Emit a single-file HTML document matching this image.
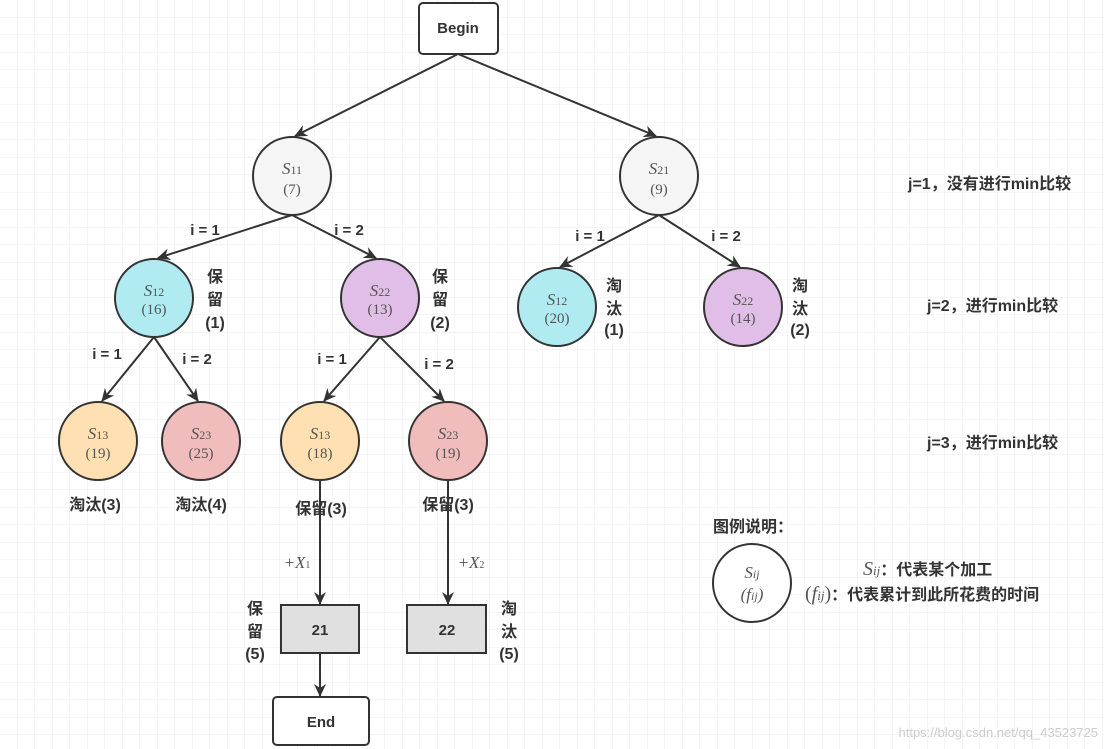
<!DOCTYPE html>
<html><head><meta charset="utf-8"><style>
body{margin:0;background:#fff}
svg{display:block}
text{font-family:"Liberation Sans","Noto Sans CJK SC",sans-serif}
.b,.b text{font-weight:bold;font-size:15px;fill:#333}
.m,.m text{font-family:"Liberation Serif",serif;font-style:italic;font-size:17px;fill:#555}
.n,.n text{font-family:"Liberation Serif",serif;font-size:15px;fill:#555}
.r{font-weight:bold;font-size:16px;fill:#333}
</style></head><body>
<svg width="1104" height="749" viewBox="0 0 1104 749">
<defs>
<pattern id="g" width="17.5" height="17.5" patternUnits="userSpaceOnUse"><path d="M17.5 0V17.5H0" fill="none" stroke="#ebebeb" stroke-width="1"/></pattern>
<marker id="a" markerWidth="13" markerHeight="12" refX="12" refY="6" orient="auto" markerUnits="userSpaceOnUse"><path d="M0,0 L13,6 L0,12 L4,6z" fill="#333"/></marker>
</defs>
<rect width="1104" height="749" fill="url(#g)"/>
<g stroke="#333" stroke-width="2" fill="none" marker-end="url(#a)">
<line x1="458" y1="54" x2="295" y2="136"/>
<line x1="458" y1="54" x2="656" y2="136"/>
<line x1="292" y1="215" x2="158" y2="258"/>
<line x1="292" y1="215" x2="376" y2="258"/>
<line x1="659" y1="215" x2="560" y2="267"/>
<line x1="659" y1="215" x2="740" y2="267"/>
<line x1="154" y1="337" x2="102" y2="401"/>
<line x1="154" y1="337" x2="198" y2="401"/>
<line x1="380" y1="337" x2="324" y2="401"/>
<line x1="380" y1="337" x2="444" y2="401"/>
<line x1="320" y1="480" x2="320" y2="604"/>
<line x1="448" y1="480" x2="448" y2="604"/>
<line x1="320" y1="653" x2="320" y2="696"/>
</g>
<g stroke="#333" stroke-width="2">
<rect x="419" y="3" width="79" height="51" rx="4" fill="#fff"/>
<rect x="273" y="697" width="96" height="48" rx="4" fill="#fff"/>
<rect x="281" y="605" width="78" height="48" fill="#e0e0e0"/>
<rect x="407" y="605" width="79" height="48" fill="#e0e0e0"/>
<circle cx="292" cy="176" r="39" fill="#f5f5f5"/>
<circle cx="659" cy="176" r="39" fill="#f5f5f5"/>
<circle cx="154" cy="298" r="39" fill="#b1ebf2"/>
<circle cx="380" cy="298" r="39" fill="#e1bee7"/>
<circle cx="557" cy="307" r="39" fill="#b1ebf2"/>
<circle cx="743" cy="307" r="39" fill="#e1bee7"/>
<circle cx="98" cy="441" r="39" fill="#ffe0b2"/>
<circle cx="201" cy="441" r="39" fill="#f0bcbc"/>
<circle cx="320" cy="441" r="39" fill="#ffe0b2"/>
<circle cx="448" cy="441" r="39" fill="#f0bcbc"/>
<circle cx="752" cy="583" r="39" fill="#fff"/>
</g>
<g text-anchor="middle">
<text x="458" y="33" class="b">Begin</text>
<text x="321" y="727" class="b">End</text>
<text x="320" y="635" class="b" font-size="16">21</text>
<text x="447" y="635" class="b" font-size="16">22</text>
<g class="m">
<text x="292" y="174">S<tspan font-size="12" font-style="normal">11</tspan></text>
<text x="659" y="174">S<tspan font-size="12" font-style="normal">21</tspan></text>
<text x="154" y="296">S<tspan font-size="12" font-style="normal">12</tspan></text>
<text x="380" y="296">S<tspan font-size="12" font-style="normal">22</tspan></text>
<text x="557" y="305">S<tspan font-size="12" font-style="normal">12</tspan></text>
<text x="743" y="305">S<tspan font-size="12" font-style="normal">22</tspan></text>
<text x="98" y="439">S<tspan font-size="12" font-style="normal">13</tspan></text>
<text x="201" y="439">S<tspan font-size="12" font-style="normal">23</tspan></text>
<text x="320" y="439">S<tspan font-size="12" font-style="normal">13</tspan></text>
<text x="448" y="439">S<tspan font-size="12" font-style="normal">23</tspan></text>
<text x="752" y="578">S<tspan font-size="12">ij</tspan></text>
<text x="752" y="600" font-style="normal">(<tspan font-style="italic">f<tspan font-size="12">ij</tspan></tspan>)</text>
</g>
<g class="n">
<text x="292" y="194">(7)</text><text x="659" y="194">(9)</text>
<text x="154" y="314">(16)</text><text x="380" y="314">(13)</text>
<text x="557" y="323">(20)</text><text x="743" y="323">(14)</text>
<text x="98" y="458">(19)</text><text x="201" y="458">(25)</text>
<text x="320" y="458">(18)</text><text x="448" y="458">(19)</text>
</g>
<g class="b">
<text x="205" y="235" font-size="14">i = 1</text><text x="349" y="235" font-size="14">i = 2</text>
<text x="590" y="241" font-size="14">i = 1</text><text x="726" y="241" font-size="14">i = 2</text>
<text x="107" y="359" font-size="14">i = 1</text><text x="197" y="364" font-size="14">i = 2</text>
<text x="332" y="364" font-size="14">i = 1</text><text x="439" y="369" font-size="14">i = 2</text>
</g>
<g class="r" font-size="17">
<text x="215" y="282">保</text><text x="215" y="305">留</text><text x="215" y="328">(1)</text>
<text x="440" y="282">保</text><text x="440" y="305">留</text><text x="440" y="328">(2)</text>
<text x="614" y="291">淘</text><text x="614" y="314">汰</text><text x="614" y="335">(1)</text>
<text x="800" y="291">淘</text><text x="800" y="314">汰</text><text x="800" y="335">(2)</text>
<text x="255" y="614">保</text><text x="255" y="637">留</text><text x="255" y="659">(5)</text>
<text x="509" y="614">淘</text><text x="509" y="637">汰</text><text x="509" y="659">(5)</text>
<text x="95" y="510">淘汰(3)</text><text x="201" y="510">淘汰(4)</text>
<text x="321" y="514">保留(3)</text><text x="448" y="510">保留(3)</text>
</g>
<text x="297" y="568" class="m" font-size="14">+X<tspan font-size="10" font-style="normal">1</tspan></text>
<text x="471" y="568" class="m" font-size="14">+X<tspan font-size="10" font-style="normal">2</tspan></text>
</g>
<g class="r">
<text x="908" y="189">j=1，没有进行min比较</text>
<text x="927" y="311">j=2，进行min比较</text>
<text x="927" y="448">j=3，进行min比较</text>
<text x="713" y="532">图例说明：</text>
<text x="863" y="575"><tspan font-family="Liberation Serif" font-style="italic" font-weight="normal" fill="#555" font-size="20">S<tspan font-size="13">ij</tspan></tspan>：代表某个加工</text>
<text x="805" y="600"><tspan font-family="Liberation Serif" font-weight="normal" fill="#555" font-size="20">(<tspan font-style="italic">f<tspan font-size="13">ij</tspan></tspan>)</tspan>：代表累计到此所花费的时间</text>
</g>
<text x="1098" y="737" text-anchor="end" font-size="13" fill="#ccc">https://blog.csdn.net/qq_43523725</text>
</svg>
</body></html>
